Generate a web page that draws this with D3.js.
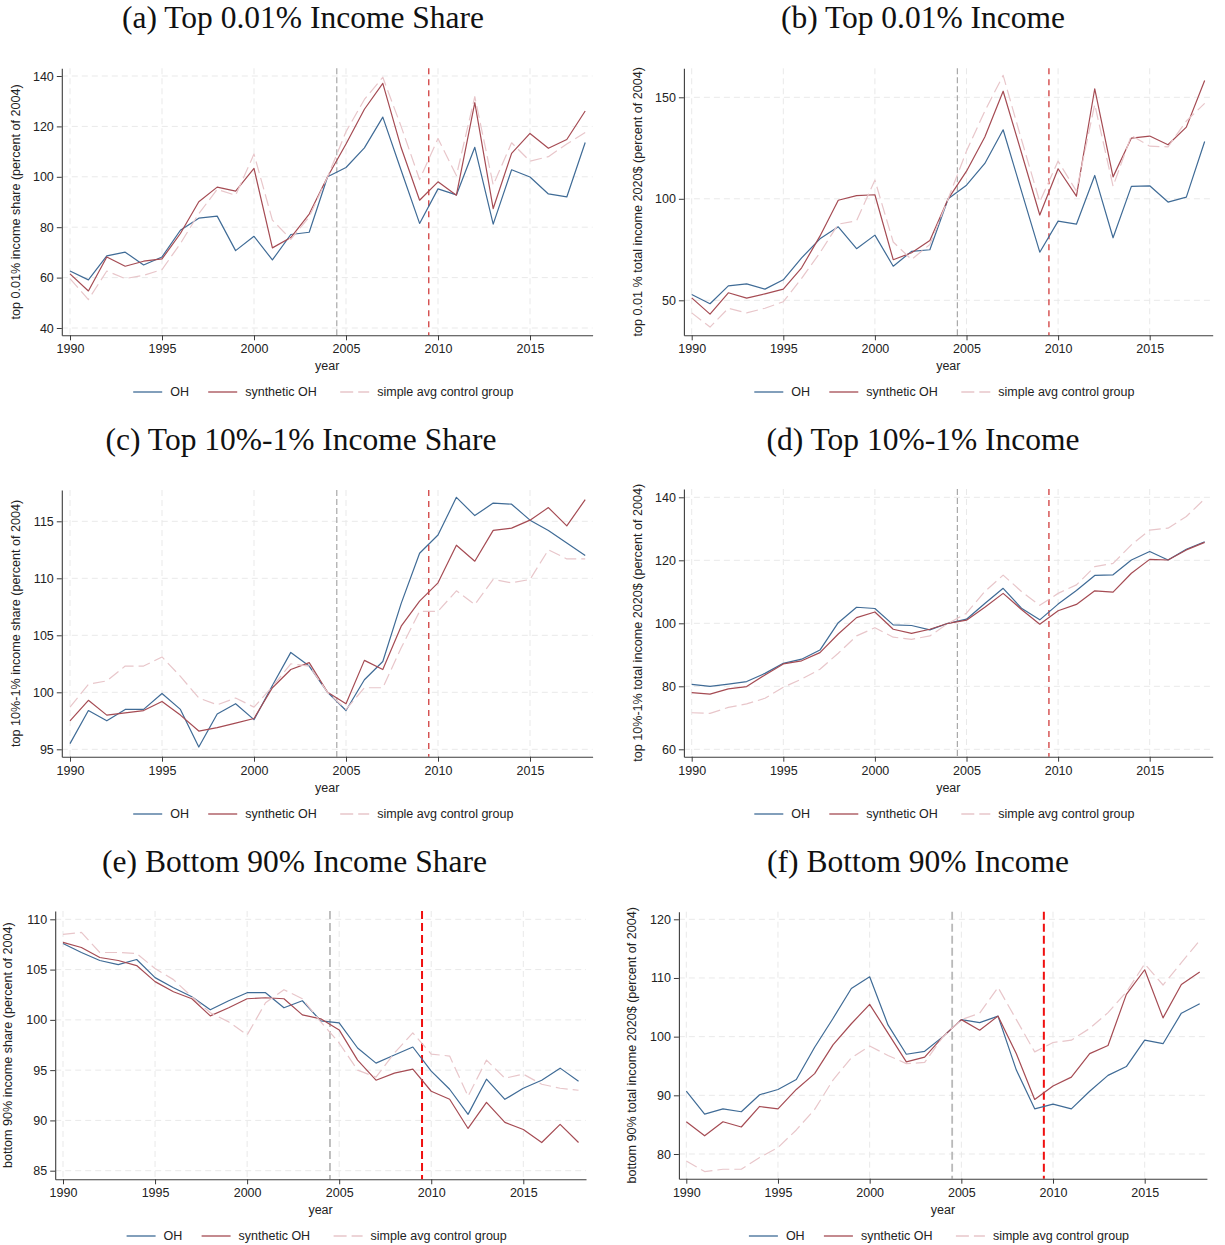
<!DOCTYPE html>
<html><head><meta charset="utf-8">
<script src="https://cdn.jsdelivr.net/npm/d3@7"></script>
<style>
body{margin:0;background:#fff;}
svg{display:block;}
</style></head>
<body>
<svg id="chart" width="1225" height="1245"></svg>
<script>
const years = [1990,1991,1992,1993,1994,1995,1996,1997,1998,1999,2000,2001,2002,2003,2004,2005,2006,2007,2008,2009,2010,2011,2012,2013,2014,2015,2016,2017,2018];
const xTicks = [1990,1995,2000,2005,2010,2015];
const seriesNames = ["OH","synthetic OH","simple avg control group"];

const aOH   = [62.6,59.1,68.6,70.1,65.0,68.2,78.8,83.6,84.4,70.7,76.4,67.0,77.1,78.0,100.0,103.7,111.5,123.7,102.5,81.5,95.2,92.8,111.7,81.2,102.8,99.9,93.2,92.0,113.6];
const aSyn  = [61.5,54.7,68.2,64.5,66.5,67.4,77.5,90.1,95.9,94.3,103.3,71.8,75.9,85.2,100.0,113.0,126.8,137.1,111.5,90.7,98.0,92.7,129.4,87.4,109.3,117.2,111.3,114.8,126.1];
const aCtrl = [59.6,51.3,62.6,59.6,60.9,63.2,73.5,85.4,95.0,92.7,109.0,82.8,75.2,84.1,100.0,117.9,130.7,139.5,119.9,98.9,115.2,100.5,131.8,96.7,113.5,106.2,108.0,113.0,117.6];

const bOH   = [52.9,48.3,57.1,58.1,55.5,60.1,70.9,80.3,86.2,75.4,82.1,66.8,74.1,74.9,100.0,106.7,117.4,134.0,103.8,73.7,89.0,87.5,111.5,80.8,106.1,106.4,98.4,100.8,128.2];
const bSyn  = [51.2,43.2,53.7,51.1,53.2,55.5,66.0,81.6,99.3,101.6,102.0,70.0,73.4,79.5,100.0,113.6,130.4,153.0,122.7,92.0,114.8,101.3,154.2,110.8,129.9,130.9,126.6,135.3,158.3];
const bCtrl = [43.8,36.8,46.1,43.8,46.1,49.3,60.8,73.4,87.5,89.2,109.2,78.7,70.1,77.5,100.0,123.5,143.2,160.8,129.2,98.5,118.6,103.8,146.5,106.2,131.2,125.9,125.6,138.3,147.0];

const cOH   = [95.5,98.4,97.5,98.5,98.5,99.9,98.5,95.2,98.1,99.0,97.6,100.6,103.5,102.3,100.0,98.4,101.1,102.7,107.8,112.2,113.8,117.1,115.5,116.6,116.5,115.1,114.2,113.1,112.0];
const cSyn  = [97.5,99.3,98.0,98.2,98.4,99.2,98.0,96.6,96.9,97.3,97.7,100.4,102.0,102.6,100.0,99.0,102.8,102.0,105.8,108.0,109.6,112.9,111.5,114.2,114.4,115.1,116.2,114.6,116.9];
const cCtrl = [98.7,100.7,101.0,102.3,102.3,103.1,101.4,99.5,98.9,99.5,98.7,100.5,102.5,102.3,100.0,98.5,100.4,100.4,103.9,107.1,107.1,108.9,107.7,109.9,109.6,109.9,112.5,111.7,111.7];

const dOH   = [80.6,80.0,80.7,81.5,84.1,87.3,88.6,91.5,100.2,105.1,104.7,99.5,99.3,97.9,100.0,101.3,106.3,111.1,104.8,101.1,106.1,110.4,115.2,115.4,120.1,122.8,120.1,123.5,125.9];
const dSyn  = [78.0,77.5,79.2,79.9,83.6,87.1,88.1,90.7,96.6,101.8,103.6,98.1,96.8,98.1,100.0,101.0,105.1,109.5,104.4,99.7,104.0,106.0,110.3,109.9,115.9,120.3,120.1,123.3,125.7];
const dCtrl = [71.6,71.4,73.3,74.4,76.2,79.7,82.3,85.4,90.5,96.0,98.6,95.6,94.9,96.0,100.0,103.2,110.1,115.3,110.1,105.7,109.5,112.2,118.0,119.0,124.9,129.6,130.2,133.9,139.5];

const eOH   = [107.6,106.7,105.9,105.5,106.0,104.2,103.2,102.3,101.0,101.9,102.7,102.7,101.2,101.9,99.9,99.7,97.2,95.7,96.5,97.3,94.9,93.1,90.6,94.1,92.1,93.2,94.0,95.2,93.9];
const eSyn  = [107.7,107.2,106.2,105.9,105.4,103.8,102.8,102.1,100.4,101.2,102.1,102.2,102.1,100.5,100.1,99.0,96.0,94.0,94.7,95.1,92.9,92.1,89.2,91.8,89.8,89.1,87.8,89.6,87.8];
const eCtrl = [108.5,108.7,106.7,106.7,106.6,105.1,104.0,102.3,100.7,99.8,98.5,101.7,103.0,102.1,99.8,97.7,95.0,94.3,96.7,98.7,96.6,96.4,92.4,96.0,94.2,94.6,93.6,93.2,93.0];

const fOH   = [90.7,86.8,87.7,87.2,90.1,91.0,92.7,98.2,103.1,108.2,110.2,102.0,97.0,97.5,100.0,102.9,102.4,103.5,94.3,87.7,88.5,87.7,90.7,93.4,94.9,99.4,98.8,104.0,105.6];
const fSyn  = [85.5,83.1,85.5,84.6,88.1,87.7,91.0,93.7,98.6,102.2,105.5,100.6,95.7,96.5,100.0,102.9,101.1,103.5,97.1,89.3,91.6,93.1,97.1,98.5,107.2,111.4,103.2,108.9,111.0];
const fCtrl = [78.8,77.0,77.4,77.4,79.4,81.1,84.1,87.6,92.6,96.4,98.4,96.8,95.4,95.6,100.0,102.9,104.0,108.4,102.9,97.4,99.0,99.4,101.4,104.1,107.6,112.4,108.8,112.6,116.4];

const titles = ["(a) Top 0.01% Income Share","(b) Top 0.01% Income","(c) Top 10%-1% Income Share","(d) Top 10%-1% Income","(e) Bottom 90% Income Share","(f) Bottom 90% Income"];
const yTitles = ["top 0.01% income share (percent of 2004)","top 0.01 % total income 2020$ (percent of 2004)","top 10%-1% income share (percent of 2004)","top 10%-1% total income 2020$ (percent of 2004)","bottom 90% income share (percent of 2004)","bottom 90% total income 2020$ (percent of 2004)"];
const yTicksA = [40,60,80,100,120,140];
const yTicksB = [50,100,150];
const yTicksC = [95,100,105,110,115];
const yTicksD = [60,80,100,120,140];
const yTicksE = [85,90,95,100,105,110];
const yTicksF = [80,90,100,110,120];
const treatStart = 2004.5, policyLine = 2009.5;

// layout (pixel geometry, calibrated on ticks)
const panels = [
  {t:0, data:[aOH,aSyn,aCtrl], yt:yTicksA, cal:[140,40,76,328], xcal:[70,530], ax:61.8, rx:592.6, top:68.3, bot:335.3, titleX:303, titleY:28, yTitleX:15.6, legY:396, thick:false},
  {t:1, data:[bOH,bSyn,bCtrl], yt:yTicksB, cal:[150,50,97.3,300.3], xcal:[691.7,1149.7], ax:683.9, rx:1212.7, top:68.3, bot:335.3, titleX:923, titleY:28, yTitleX:637.3, legY:396, thick:false},
  {t:2, data:[cOH,cSyn,cCtrl], yt:yTicksC, cal:[115,95,521.3,749.3], xcal:[70,530], ax:61.8, rx:592.6, top:490, bot:756.7, titleX:301, titleY:450, yTitleX:15.6, legY:818, thick:false},
  {t:3, data:[dOH,dSyn,dCtrl], yt:yTicksD, cal:[140,60,497.3,749.3], xcal:[691.7,1149.7], ax:683.9, rx:1212.7, top:489, bot:756.7, titleX:923, titleY:450, yTitleX:637.3, legY:818, thick:false},
  {t:4, data:[eOH,eSyn,eCtrl], yt:yTicksE, cal:[110,85,919.3,1170.7], xcal:[63,523.3], ax:55.2, rx:586, top:911, bot:1179.3, titleX:294.5, titleY:872, yTitleX:7.8, legY:1240, thick:true},
  {t:5, data:[fOH,fSyn,fCtrl], yt:yTicksF, cal:[120,80,919.3,1154], xcal:[686.3,1144.7], ax:678.9, rx:1206.9, top:911.7, bot:1178.7, titleX:918, titleY:872, yTitleX:631.4, legY:1240, thick:true}
];

const colors = ["#3f6b96","#a54b53","#e8c6ca"];
const dashes = [null,null,"12,5"];
const SANS = "'Liberation Sans', Arial, Helvetica, sans-serif";
const svg = d3.select("#chart");
svg.append("rect").attr("width",1225).attr("height",1245).attr("fill","#fff");

panels.forEach(p => {
  const g = svg.append("g");
  const y0 = d3.scaleLinear().domain([p.cal[0],p.cal[1]]).range([p.cal[2],p.cal[3]]);
  const y = d3.scaleLinear().domain([y0.invert(p.bot), y0.invert(p.top)]).range([p.bot, p.top]);
  const x0 = d3.scaleLinear().domain([1990,2015]).range(p.xcal);
  const x = d3.scaleLinear().domain([x0.invert(p.ax), x0.invert(p.rx)]).range([p.ax, p.rx]);

  // grid
  g.selectAll(".hg").data(p.yt).join("line")
    .attr("x1",p.ax).attr("x2",p.rx).attr("y1",d=>y(d)).attr("y2",d=>y(d))
    .attr("stroke","#e9e9e9").attr("stroke-width",1).attr("stroke-dasharray","6,4");
  g.selectAll(".vg").data(xTicks).join("line")
    .attr("x1",d=>x(d)).attr("x2",d=>x(d)).attr("y1",p.top).attr("y2",p.bot)
    .attr("stroke","#e9e9e9").attr("stroke-width",1).attr("stroke-dasharray","6,4");

  // reference lines
  g.append("line").attr("x1",x(treatStart)).attr("x2",x(treatStart)).attr("y1",p.top).attr("y2",p.bot)
    .attr("stroke", p.thick ? "#b9b9b9" : "#a0a0a0").attr("stroke-width", p.thick ? 1.8 : 1.1)
    .attr("stroke-dasharray", p.thick ? "8,4" : "6,3");
  g.append("line").attr("x1",x(policyLine)).attr("x2",x(policyLine)).attr("y1",p.top).attr("y2",p.bot)
    .attr("stroke", p.thick ? "#f01010" : "#c81a1a").attr("stroke-width", p.thick ? 2 : 1.1)
    .attr("stroke-dasharray", p.thick ? "8,4" : "6,5");

  // series
  const line = d3.line().x((d,i)=>x(years[i])).y(d=>y(d));
  [0,1,2].forEach(k => {
    g.append("path").datum(p.data[k]).attr("d",line)
      .attr("fill","none").attr("stroke",colors[k]).attr("stroke-width",1.2)
      .attr("stroke-linejoin","round")
      .attr("stroke-dasharray",dashes[k]);
  });

  // axes
  const ya = g.append("g").attr("transform",`translate(${p.ax},0)`)
    .call(d3.axisLeft(y).tickValues(p.yt).tickSize(5).tickSizeOuter(0).tickPadding(3).tickFormat(d3.format("d")));
  const xa = g.append("g").attr("transform",`translate(0,${p.bot})`)
    .call(d3.axisBottom(x).tickValues(xTicks).tickSize(5).tickSizeOuter(0).tickPadding(4).tickFormat(d3.format("d")));
  [ya,xa].forEach(a => {
    a.select(".domain").attr("stroke","#3c3c3c").attr("stroke-width",1.1);
    a.selectAll(".tick line").attr("stroke","#3c3c3c").attr("stroke-width",1);
    a.selectAll("text").attr("font-family",SANS).attr("font-size",12.5).attr("fill","#222");
  });

  // axis titles
  g.append("text").attr("x",(p.ax+p.rx)/2).attr("y",p.bot+35)
    .attr("text-anchor","middle").attr("font-family",SANS).attr("font-size",12.5).attr("fill","#222").text("year");
  g.append("text").attr("transform",`translate(${p.yTitleX},${(p.top+p.bot)/2}) rotate(-90)`)
    .attr("text-anchor","middle").attr("dy","0.35em").attr("font-family",SANS).attr("font-size",12.6).attr("fill","#222")
    .text(yTitles[p.t]);

  // title
  g.append("text").attr("x",p.titleX).attr("y",p.titleY).attr("text-anchor","middle")
    .attr("font-family","'Liberation Serif','Times New Roman',serif").attr("font-size",31.5).attr("fill","#111")
    .text(titles[p.t]);

  // legend
  const lx = (p.ax+p.rx)/2 - 194;
  const offs = [[0,37],[75,112],[207,244]];
  seriesNames.forEach((n,k) => {
    g.append("line").attr("x1",lx+offs[k][0]).attr("x2",lx+offs[k][0]+29).attr("y1",p.legY-4).attr("y2",p.legY-4)
      .attr("stroke",colors[k]).attr("stroke-width",1.3).attr("stroke-dasharray", k===2 ? "13,5" : null);
    g.append("text").attr("x",lx+offs[k][1]).attr("y",p.legY).attr("font-family",SANS).attr("font-size",12.5).attr("fill","#222").text(n);
  });
});
</script>
</body></html>
